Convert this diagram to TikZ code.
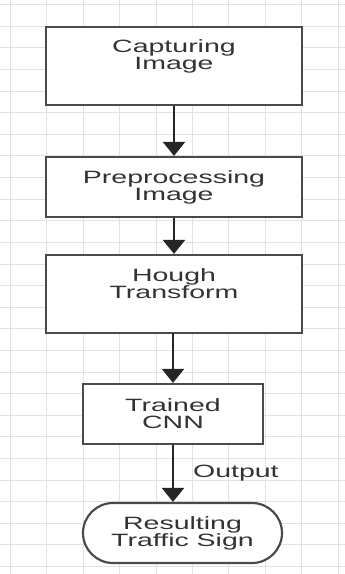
\documentclass[tikz,border=0pt]{standalone}
\usepackage{fontspec}
\usepackage{tikz}
\usepackage{xcolor}
\usetikzlibrary{arrows.meta}
\newfontfamily\flowfont[FakeStretch=1.6]{Liberation Sans}
\definecolor{boxline}{HTML}{4A4A4A}
\definecolor{flowtext}{HTML}{333333}
\definecolor{gridgray}{HTML}{E2E2E2}

\begin{document}
\begin{tikzpicture}[x=0.3mm,y=-0.3mm,
    gridline/.style={gridgray, line width=0.3mm},
    stepbox/.style={draw=boxline, fill=white, line width=0.65mm, minimum width=76.8mm, inner sep=0pt},
    tallbox/.style={stepbox, minimum height=23.4mm},
    shortbox/.style={stepbox, minimum height=18mm},
    steptext/.style={text=flowtext, align=center, inner sep=0pt, font=\flowfont\fontsize{15.2}{14.5}\selectfont},
    flow/.style={draw=black!85, line width=0.65mm, -{Triangle[width=6.6mm,length=4.2mm]}}]
    \useasboundingbox (0,0) rectangle (345,574);
    \fill[white] (0,0) rectangle (345,574);

    % Background grid
    \foreach \gx in {0,...,9}
        \draw[gridline] ({10.5+36.4*\gx},0) -- ++(0,574);
    \foreach \gy in {0,...,26}
        \draw[gridline] (0,{4.8+21.6*\gy}) -- ++(345,0);

    % Capturing image
    \node[tallbox] (capture) at (174,66) {};
    \node[steptext] (capturelabel) at ([yshift=-9mm]capture.north) {Capturing\\Image};

    % Preprocessing
    \node[shortbox, steptext] (prepro) at (174,187) {Preprocessing\\Image};

    % Hough transform
    \node[tallbox] (hough) at (174,294) {};
    \node[steptext] (houghlabel) at ([yshift=-9mm]hough.north) {Hough\\Transform};

    % Trained CNN
    \node[shortbox, steptext, minimum width=54mm] (cnn) at (173,414) {Trained\\CNN};

    % Result (terminal)
    \node[shortbox, steptext, minimum width=59.7mm, rounded corners=9mm] (result) at (182.5,533) {Resulting\\Traffic Sign};

    % Arrows
    \draw[flow] (capture.south) -- (prepro.north);
    \draw[flow] (prepro.south) -- (hough.north);
    \draw[flow] (hough.south) -- (cnn.south |- hough.south) -- (cnn.north);
    \draw[flow] (cnn.south) -- node[steptext, anchor=west, xshift=5.7mm] (outlabel) {Output} (cnn.south |- result.north);
\end{tikzpicture}
\end{document}
